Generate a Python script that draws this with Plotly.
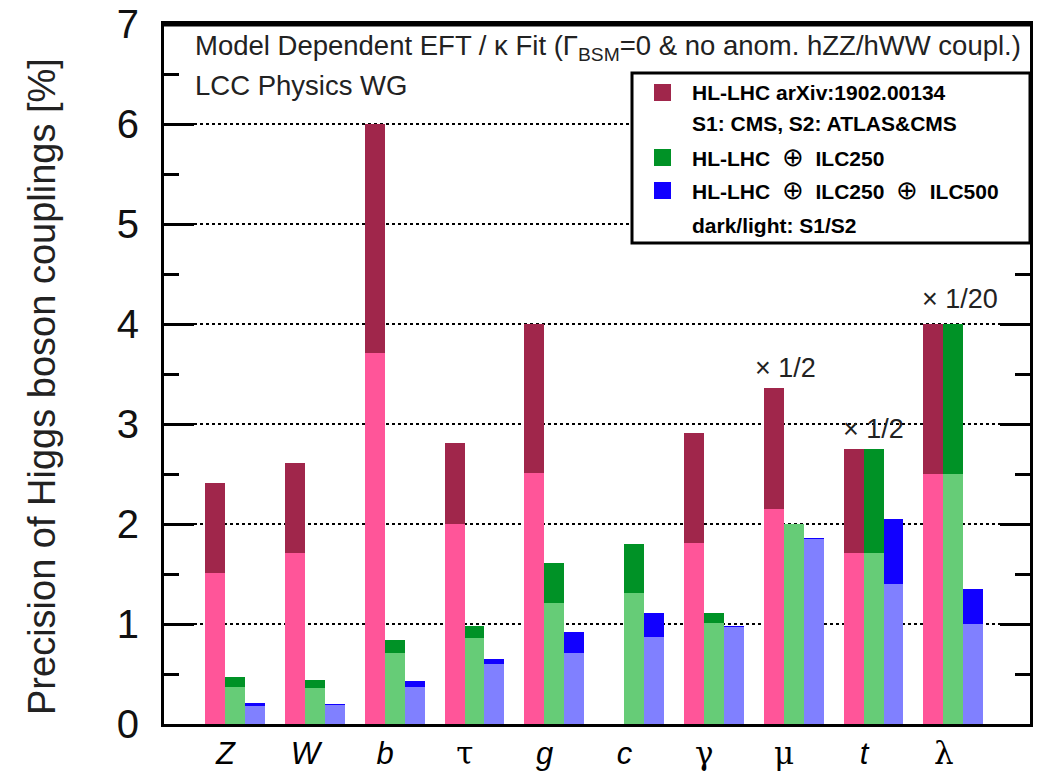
import plotly.graph_objects as go

# ---------------- data ----------------
categories = ["Z", "W", "b", "τ", "g", "c", "γ", "μ", "t", "λ"]
SERIF = "<span style='font-family:DejaVu Serif'>{}</span>"
tick_labels = ["<i>Z</i>", "<i>W</i>", "<i>b</i>", SERIF.format("τ"), "<i>g</i>", "<i>c</i>",
               SERIF.format("γ"), SERIF.format("μ"), "<i>t</i>", SERIF.format("λ")]
y_ticks = [0, 1, 2, 3, 4, 5, 6, 7]

hllhc_s1 = [2.41, 2.61, 6.00, 2.81, 4.00, None, 2.91, 3.36, 2.75, 4.00]
hllhc_s2 = [1.51, 1.71, 3.71, 2.00, 2.51, None, 1.81, 2.15, 1.71, 2.50]
ilc250_s1 = [0.47, 0.44, 0.84, 0.98, 1.61, 1.80, 1.11, 2.00, 2.75, 4.00]
ilc250_s2 = [0.37, 0.36, 0.71, 0.86, 1.21, 1.31, 1.01, 2.00, 1.71, 2.50]
ilc500_s1 = [0.21, 0.20, 0.43, 0.65, 0.92, 1.11, 0.98, 1.86, 2.05, 1.35]
ilc500_s2 = [0.18, 0.19, 0.37, 0.60, 0.71, 0.87, 0.97, 1.85, 1.40, 1.00]

scale_notes = {"μ": "× 1/2", "t": "× 1/2", "λ": "× 1/20"}

legend_entries = [
    ("HL-LHC arXiv:1902.00134", "#A0264B"),
    ("S1: CMS, S2: ATLAS&CMS", None),
    ("HL-LHC ⊕ ILC250", "#009226"),
    ("HL-LHC ⊕ ILC250 ⊕ ILC500", "#1100FF"),
    ("dark/light: S1/S2", None),
]

# ---------------- style ----------------
BW = 0.25
FONT = "Liberation Sans"
idx = list(range(len(categories)))
W, H = 1038, 776
ML, MR, MT, MB = 164, 8, 24, 52
PW, PH = W - ML - MR, H - MT - MB

series = [
    (hllhc_s1, hllhc_s2, -BW, "#A0264B", "#FF5599"),
    (ilc250_s1, ilc250_s2, 0.0, "#009226", "#66CC77"),
    (ilc500_s1, ilc500_s2, BW, "#1100FF", "#8080FF"),
]

fig = go.Figure()
for s1, s2, off, dark, light in series:
    xs = [i + off for i in idx]
    fig.add_trace(go.Bar(x=xs, y=s1, width=BW, marker=dict(color=dark, line=dict(width=0)),
                         showlegend=False))
    fig.add_trace(go.Bar(x=xs, y=s2, width=BW, marker=dict(color=light, line=dict(width=0)),
                         showlegend=False))

# scale annotations
note_off = {"μ": (-0.1, 0.03), "t": (0.0, 0.03), "λ": (0.08, 0.08)}
for cat, txt in scale_notes.items():
    i = categories.index(cat)
    top = max(v for v in (hllhc_s1[i], ilc250_s1[i], ilc500_s1[i]) if v is not None)
    dx, dy = note_off[cat]
    fig.add_annotation(x=i + dx, y=top + dy, text=txt, showarrow=False, xref="x", yref="y",
                       yanchor="bottom", font=dict(family=FONT, size=27, color="#222"))


def px2paper(px, py):
    # px, py are screen pixels of the 1038x776 window
    return (px - ML) / PW, (H - MB - py) / PH


# top frame edge (drawn just inside the plot top)
fx0, fy = px2paper(ML, MT + 1)
fx1, _ = px2paper(W - MR, MT + 1)
fig.add_shape(type="line", xref="paper", yref="paper", x0=fx0, y0=fy, x1=fx1, y1=fy,
              line=dict(color="black", width=3), layer="above")

# header text
hx, hy = px2paper(193, 48)
fig.add_annotation(xref="paper", yref="paper", x=hx, y=hy, xanchor="left", yanchor="middle",
                   text="Model Dependent EFT / κ Fit (Γ<sub>BSM</sub>=0 &amp; no anom. hZZ/hWW coupl.)",
                   showarrow=False, font=dict(family=FONT, size=27.5, color="#222"))
hx, hy = px2paper(193, 86)
fig.add_annotation(xref="paper", yref="paper", x=hx, y=hy, xanchor="left", yanchor="middle",
                   text="LCC Physics WG", showarrow=False, font=dict(family=FONT, size=27.5, color="#222"))

# y title
tx, ty = px2paper(42, 387)
fig.add_annotation(xref="paper", yref="paper", x=tx, y=ty, xanchor="center", yanchor="middle",
                   textangle=-90, text="Precision of Higgs boson couplings [%]", showarrow=False,
                   font=dict(family=FONT, size=38, color="#222"))

# custom legend box
x0, y0 = px2paper(632, 243)
x1, y1 = px2paper(1030, 73)
fig.add_shape(type="rect", xref="paper", yref="paper", x0=x0, y0=y0, x1=x1, y1=y1,
              line=dict(color="black", width=3), fillcolor="white", layer="above")
row_y = [92, 123, 157, 190, 225]
OPLUS = "&nbsp;&nbsp;<span style='font-weight:normal;font-size:26px'>⊕</span>&nbsp;&nbsp;"
for (label, col), ry in zip(legend_entries, row_y):
    tx, ty = px2paper(690, ry)
    if col:
        sx0, sy0 = px2paper(654, ry + 9)
        sx1, sy1 = px2paper(671, ry - 8)
        fig.add_shape(type="rect", xref="paper", yref="paper", x0=sx0, y0=sy0, x1=sx1, y1=sy1,
                      line=dict(width=0), fillcolor=col, layer="above")
    txt = label.replace("&", "&amp;").replace(" ⊕ ", "</b>" + OPLUS + "<b>")
    fig.add_annotation(xref="paper", yref="paper", x=tx, y=ty, xanchor="left", yanchor="middle",
                       text="<b>" + txt + "</b>", showarrow=False,
                       font=dict(family=FONT, size=21, color="black"))

fig.update_layout(
    width=W, height=H,
    margin=dict(l=ML, r=MR, t=MT, b=MB, autoexpand=False),
    paper_bgcolor="white", plot_bgcolor="white",
    barmode="overlay", bargap=0,
    showlegend=False,
    font=dict(family=FONT, color="black"),
)
fig.update_xaxes(
    range=[-0.89, 9.96], tickmode="array",
    tickvals=[i - 0.12 for i in idx], ticktext=tick_labels,
    tickfont=dict(family=FONT, size=31, color="black"),
    showline=True, linecolor="black", linewidth=3, mirror=True,
    showgrid=False, ticks="", zeroline=False, automargin=False,
)
fig.update_yaxes(
    range=[0, 7], tickmode="array", tickvals=y_ticks, ticktext=[str(v) for v in y_ticks],
    tickfont=dict(family=FONT, size=40, color="#111"),
    ticks="inside", ticklen=30, tickwidth=3, tickcolor="black",
    minor=dict(dtick=0.5, ticks="inside", ticklen=15, tickwidth=3, tickcolor="black", showgrid=False),
    showline=True, linecolor="black", linewidth=3, mirror="ticks",
    showgrid=True, gridcolor="black", gridwidth=1.5, griddash="dot",
    zeroline=False, automargin=False, ticklabelstandoff=14,
)

fig.write_html("out.html", config={"displayModeBar": False},
               post_script="document.body.style.margin='0';")
